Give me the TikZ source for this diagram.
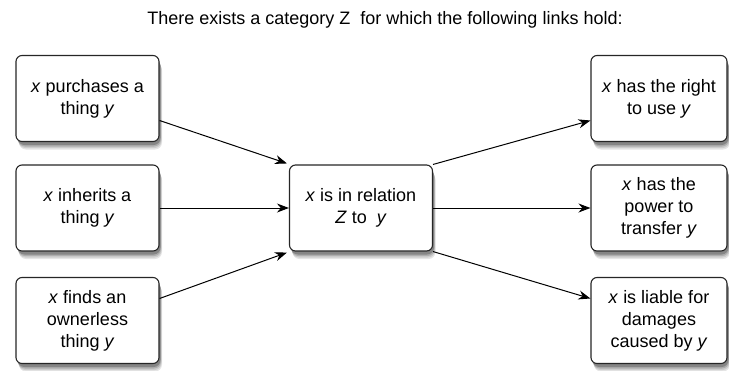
\documentclass[tikz,border=0pt]{standalone}
\usepackage{fontspec}
\setmainfont{Liberation Sans}
\usetikzlibrary{arrows.meta}

\begin{document}
\begin{tikzpicture}[x=1pt, y=-1pt, >={Stealth[length=12pt, width=9pt]},
  box/.style={draw=black!85, line width=1.1pt, fill=white, rounded corners=6pt, align=center,
    minimum width=143pt, minimum height=86pt, font=\fontsize{18}{22}\selectfont}]
\useasboundingbox (0,0) rectangle (729,370);
% soft shadows first, so the boxes sit on top of them
\foreach \px/\py/\bw in {87.5/98.5/143, 87.5/208/143, 87.5/320.5/143, 361/208/143,
                         659/98.5/136, 659/208/136, 659/320.5/136} {
  \foreach \ox/\oy/\shade in {3/8/10, 2.5/6.5/20, 2/5/32, 1.5/3.5/48} {
    \fill[black!\shade, rounded corners=7pt] (\px-\bw/2+\ox, \py-43+\oy) rectangle ++(\bw,86);
  }
}
\node[font=\fontsize{18}{22}\selectfont] (title) at (385,20) {There exists a category Z\ \ for which the following links hold:};

\node[box] (purchase) at (87.5,98.5) {\textit{x} purchases a\\thing \textit{y}};
\node[box] (inherit) at (87.5,208) {\textit{x} inherits a\\thing \textit{y}};
\node[box] (finds) at (87.5,320.5) {\textit{x} finds an\\ownerless\\thing \textit{y}};

\node[box] (relation) at (361,208) {\textit{x} is in relation\\\textit{Z} to\ \ \textit{y}};

\node[box, minimum width=136pt] (use) at (659,98.5) {\textit{x} has the right\\to use \textit{y}};
\node[box, minimum width=136pt] (transfer) at (659,208) {\textit{x} has the\\power to\\transfer \textit{y}};
\node[box, minimum width=136pt] (liable) at (659,320.5) {\textit{x} is liable for\\damages\\caused by \textit{y}};

\draw[->, line width=1pt] ([yshift=-22pt]purchase.east) -- ([xshift=-2pt,yshift=1pt]relation.north west);
\draw[->, line width=1pt] (inherit) -- (relation);
\draw[->, line width=1pt] ([yshift=22pt]finds.east) -- ([xshift=-2pt,yshift=-1pt]relation.south west);

\draw[->, line width=1pt] (relation.north east) -- ([yshift=-22pt]use.west);
\draw[->, line width=1pt] (relation) -- (transfer);
\draw[->, line width=1pt] (relation.south east) -- ([yshift=22pt]liable.west);
\end{tikzpicture}
\end{document}
